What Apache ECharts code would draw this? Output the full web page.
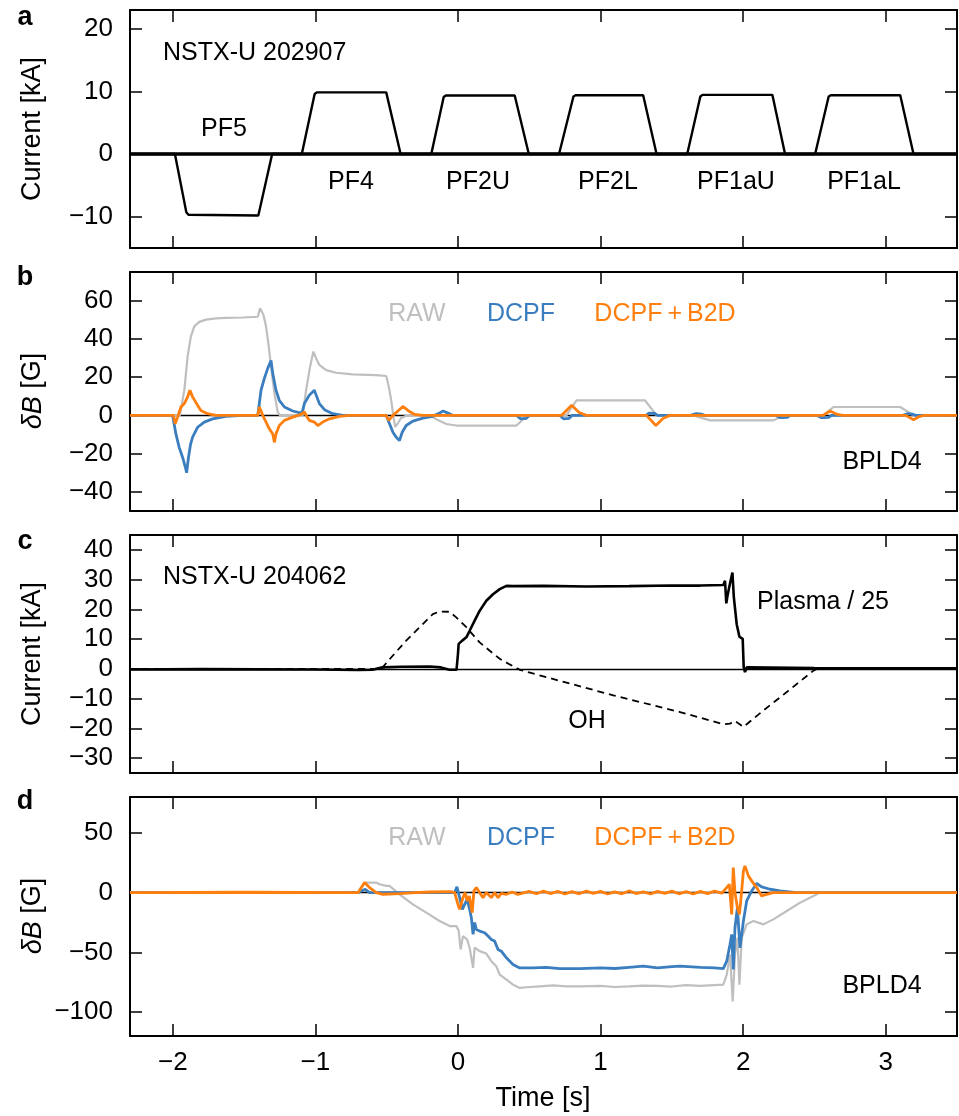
<!DOCTYPE html>
<html><head><meta charset="utf-8">
<script src="https://cdn.jsdelivr.net/npm/echarts@6/dist/echarts.min.js"></script>
<style>html,body{margin:0;padding:0;background:#fff}#c{width:959px;height:1116px}</style>
</head><body><div id="c"></div>
<script>
// ---------- tick values ----------
const xTicks = [-2, -1, 0, 1, 2, 3];
const aTicks = [-10, 0, 10, 20];
const bTicks = [-40, -20, 0, 20, 40, 60];
const cTicks = [-30, -20, -10, 0, 10, 20, 30, 40];
const dTicks = [-100, -50, 0, 50];

// ---------- panel a : PF coil currents [kA] ----------
const pf5   = [[-2.3,0],[-1.985,0],[-1.905,-9.3],[-1.89,-9.7],[-1.40,-9.8],[-1.303,0],[3.5,0]];
const pf4   = [[-2.3,0],[-1.095,0],[-1.005,9.6],[-0.99,9.85],[-0.503,9.85],[-0.402,0],[3.5,0]];
const pf2u  = [[-2.3,0],[-0.187,0],[-0.10,9.1],[-0.085,9.35],[0.398,9.35],[0.497,0],[3.5,0]];
const pf2l  = [[-2.3,0],[0.709,0],[0.81,9.2],[0.825,9.4],[1.299,9.4],[1.393,0],[3.5,0]];
const pf1au = [[-2.3,0],[1.608,0],[1.70,9.2],[1.715,9.45],[2.205,9.45],[2.294,0],[3.5,0]];
const pf1al = [[-2.3,0],[2.505,0],[2.60,9.2],[2.615,9.4],[3.102,9.4],[3.195,0],[3.5,0]];

// ---------- panel b : BPLD4 deltaB [G], shot 202907 ----------
const bRaw = [[-2.3,0],[-1.95,0],[-1.943,0.5],[-1.919,13.2],[-1.896,30.8],[-1.873,41.3],[-1.849,46.6],[-1.814,48.9],[-1.767,50.1],[-1.697,50.7],[-1.627,51.0],[-1.51,51.2],[-1.404,51.6],[-1.388,56.0],[-1.365,52.8],[-1.346,46.6],[-1.327,36.1],[-1.311,25.5],[-1.287,11.4],[-1.264,1.8],[-1.248,0],[-1.089,0],[-1.065,13.2],[-1.037,25.5],[-1.014,33.4],[-0.995,29.9],[-0.972,26.4],[-0.925,23.7],[-0.855,22.3],[-0.738,21.5],[-0.574,21.1],[-0.503,20.6],[-0.485,15],[-0.468,7.9],[-0.452,-0.9],[-0.44,-6],[-0.42,-4],[-0.40,-1.5],[-0.36,0],[-0.199,0],[-0.152,-2],[-0.082,-4.5],[-0.012,-5.3],[0.41,-5.3],[0.445,-3],[0.48,0],[0.761,0],[0.831,7.9],[1.311,7.9],[1.393,0],[1.65,0],[1.768,-2.6],[2.213,-2.6],[2.283,0],[2.563,0],[2.634,4.4],[3.102,4.4],[3.196,0],[3.5,0]];
const bDcpf = [[-2.3,0],[-2.001,0],[-1.978,-9.7],[-1.955,-16.7],[-1.931,-22],[-1.912,-27],[-1.903,-30],[-1.89,-22],[-1.875,-15],[-1.861,-11.4],[-1.826,-6.2],[-1.779,-3.5],[-1.721,-1.8],[-1.627,-0.5],[-1.51,0],[-1.404,0],[-1.393,6.2],[-1.381,13.2],[-1.358,19.3],[-1.334,24.6],[-1.311,28.7],[-1.299,22],[-1.276,13.2],[-1.253,7.9],[-1.217,4.4],[-1.159,2.3],[-1.1,1.2],[-1.089,2.6],[-1.077,6.2],[-1.042,10.6],[-1.007,13.2],[-0.99,9.7],[-0.972,6.2],[-0.936,3],[-0.878,0.9],[-0.808,0],[-0.503,0],[-0.48,-4.4],[-0.456,-8.8],[-0.433,-11.4],[-0.41,-13.2],[-0.391,-8.8],[-0.363,-5.3],[-0.316,-3],[-0.246,-1.4],[-0.176,-0.5],[-0.129,1.2],[-0.105,2.3],[-0.07,1.2],[-0.035,0],[0.41,0],[0.44,-1.8],[0.48,-1.5],[0.50,0],[0.715,0],[0.74,-1.8],[0.78,-1.5],[0.80,0],[1.32,0],[1.34,1.2],[1.38,1],[1.40,0],[1.63,0],[1.67,0.9],[1.71,0.6],[1.73,0],[2.23,0],[2.26,-1.2],[2.31,-1],[2.33,0],[2.52,0],[2.55,-1.2],[2.6,-1],[2.62,0],[3.12,0],[3.15,0.9],[3.19,0.6],[3.21,0],[3.5,0]];
const bB2d = [[-2.3,0],[-1.995,0],[-1.983,-4.4],[-1.966,-0.9],[-1.943,4.4],[-1.919,6.2],[-1.896,9.7],[-1.88,13.2],[-1.861,9.7],[-1.826,5.3],[-1.803,2.6],[-1.756,0.9],[-1.697,0],[-1.404,0],[-1.393,4.4],[-1.369,0],[-1.346,-3.5],[-1.323,-7],[-1.299,-9.7],[-1.287,-14.1],[-1.276,-9.7],[-1.253,-5.3],[-1.217,-2.6],[-1.159,-0.9],[-1.1,0.5],[-1.077,1.8],[-1.065,0],[-1.042,-2.6],[-1.007,-3.5],[-0.983,-5.3],[-0.948,-3.5],[-0.901,-1.8],[-0.831,-0.5],[-0.761,0],[-0.503,0],[-0.485,-2.6],[-0.456,0],[-0.421,2.3],[-0.386,4.7],[-0.351,2.6],[-0.304,0.5],[-0.246,0],[0.726,0],[0.797,5.3],[0.85,1.5],[0.901,0],[1.322,0],[1.388,-5.3],[1.44,-1.5],[1.487,0],[2.56,0],[2.61,2.3],[2.66,0.5],[2.7,0],[3.14,0],[3.195,-2.3],[3.24,-0.5],[3.27,0],[3.5,0]];

// ---------- panel c : shot 204062 currents [kA] ----------
const plasma = [[-2.3,-0.2],[-1.8,-0.1],[-1.0,-0.2],[-0.7,-0.4],[-0.6,-0.3],[-0.53,0.5],[-0.4,0.7],[-0.2,0.8],[-0.12,0.5],[-0.06,-0.3],[-0.01,-0.3],[0.0,5],[0.005,8.4],[0.03,9.5],[0.059,10.6],[0.082,12.8],[0.117,16.2],[0.152,19.5],[0.199,22.9],[0.246,25.1],[0.293,26.8],[0.34,27.9],[0.386,27.8],[0.6,27.9],[0.9,27.7],[1.2,27.8],[1.5,28],[1.7,28],[1.861,28.2],[1.873,29.6],[1.882,22],[1.89,24.5],[1.905,28],[1.915,28.3],[1.925,32.4],[1.935,24],[1.955,15],[1.974,10.8],[1.997,10.1],[2.004,0.6],[2.013,-1.1],[2.025,0.5],[2.5,0.3],[3.5,0.2]];
const oh = [[-2.3,0],[-0.538,0],[-0.456,4.5],[-0.363,9.5],[-0.269,14],[-0.176,18.4],[-0.129,19.3],[-0.059,19.2],[-0.012,17.3],[0.059,14],[0.152,8.9],[0.223,6.1],[0.293,3.4],[0.363,1.5],[0.433,-0.3],[0.621,-2.8],[1.089,-8.9],[1.557,-14.5],[1.861,-18.6],[1.908,-18.4],[1.943,-17.5],[2.002,-19.5],[2.142,-14],[2.306,-7.8],[2.493,-0.6],[2.517,0],[3.5,0]];

// ---------- panel d : BPLD4 deltaB [G], shot 204062 ----------
const dRaw = [[-2.3,0],[-0.7,0],[-0.66,7],[-0.644,8.4],[-0.573,8.4],[-0.55,7],[-0.503,5.6],[-0.48,5.6],[-0.41,-1.4],[-0.316,-9.8],[-0.222,-16.8],[-0.129,-23.8],[-0.058,-28],[-0.011,-28],[0.005,-32],[0.019,-47.6],[0.035,-36.4],[0.064,-39.2],[0.082,-46.2],[0.106,-63],[0.117,-46],[0.152,-49],[0.199,-51],[0.234,-57.4],[0.269,-61.6],[0.293,-68.6],[0.34,-72.8],[0.386,-77],[0.433,-79.8],[0.48,-79.2],[0.574,-78.4],[0.667,-77.6],[0.761,-78.4],[0.855,-78.4],[1.0,-78],[1.1,-79],[1.2,-78.5],[1.3,-77.8],[1.4,-78],[1.5,-78.6],[1.6,-77.5],[1.7,-78],[1.861,-77],[1.885,-68.6],[1.908,-51.8],[1.927,-91],[1.943,-51.8],[1.96,-37.8],[1.974,-77],[1.99,-37.8],[2.025,-26.6],[2.072,-23.8],[2.142,-26.6],[2.212,-22.4],[2.306,-15.4],[2.4,-8.4],[2.493,-2.8],[2.54,0],[3.5,0]];
const dDcpf = [[-2.3,0],[-0.70,0],[-0.691,-1.4],[-0.65,2.8],[-0.62,0],[-0.023,0],[-0.007,4.8],[0.012,-4.2],[0.031,-14],[0.047,-9.8],[0.064,-5.6],[0.082,-14],[0.094,-21],[0.106,-35],[0.117,-25],[0.129,-30.8],[0.152,-32.2],[0.187,-33.6],[0.211,-36.4],[0.234,-39.2],[0.257,-40.6],[0.281,-47.6],[0.304,-49],[0.34,-54.6],[0.386,-60.2],[0.433,-63],[0.527,-63],[0.621,-62.5],[0.714,-63.6],[0.855,-63.6],[1.0,-63],[1.1,-63.5],[1.2,-62.5],[1.299,-61.6],[1.4,-63],[1.5,-62],[1.557,-61.6],[1.7,-62.5],[1.8,-63],[1.861,-63.6],[1.885,-57.4],[1.908,-43.4],[1.92,-35],[1.931,-64.4],[1.943,-29.4],[1.96,-12.6],[1.978,-46.2],[2.002,-23.8],[2.025,-7],[2.06,1.4],[2.095,7.6],[2.13,4.8],[2.189,2.8],[2.259,1.4],[2.376,0],[3.5,0]];
const dB2d = [[-2.3,0],[-1.5,0.3],[-0.7,0],[-0.691,0],[-0.655,8.4],[-0.62,4.2],[-0.573,0],[-0.527,-1.4],[-0.41,-0.8],[-0.3,0],[-0.2,0.5],[-0.05,0.8],[-0.023,0],[-0.01,1.4],[0.005,-12],[0.012,-14],[0.02,-15.4],[0.035,-4.2],[0.05,0],[0.066,-7],[0.08,-2.8],[0.1,-16.8],[0.112,1.4],[0.129,4.2],[0.152,0],[0.176,-4.2],[0.199,0],[0.234,-4.2],[0.257,0],[0.281,-4.2],[0.304,-0.7],[0.34,-1.4],[0.38,0.5],[0.42,-1.5],[0.5,1],[0.55,-1],[0.6,1.2],[0.65,-0.8],[0.7,1],[0.75,-1.2],[0.8,0.8],[0.85,-1],[0.9,1.2],[0.95,-0.6],[1.0,1],[1.05,-1.2],[1.1,0.6],[1.15,-1],[1.2,1.4],[1.25,-0.8],[1.3,0.6],[1.35,-1.2],[1.4,1],[1.45,-0.6],[1.5,1.2],[1.55,-1],[1.6,0.8],[1.65,-1.2],[1.7,1],[1.75,-0.8],[1.8,1.2],[1.85,-0.5],[1.885,4.2],[1.903,7],[1.92,-18.2],[1.931,21],[1.943,0],[1.96,-12.6],[1.974,-18.2],[1.99,1.4],[2.002,18.2],[2.013,22.4],[2.037,14],[2.06,9.8],[2.095,4.2],[2.13,-2.8],[2.165,-1.4],[2.212,0],[3.5,0]];

// ---------- styling ----------
const FONT = '"Liberation Sans", Arial, Helvetica, sans-serif';
const GRAY = '#bfbfbf', BLUE = '#3a7ebf', ORANGE = '#ff7f0e';
const LEFT = 130, WIDTH = 827;
const panels = [
  {top: 10,  height: 238, min: -15,  max: 23, ticks: aTicks},
  {top: 272, height: 239, min: -50,  max: 75, ticks: bTicks},
  {top: 535, height: 238, min: -35,  max: 45, ticks: cTicks},
  {top: 797, height: 239, min: -120, max: 80, ticks: dTicks}
];
const fmt = v => (v < 0 ? '\u2212' + Math.abs(v) : String(v));

const grid = [], xAxis = [], yAxis = [];
panels.forEach((p, i) => {
  grid.push({left: LEFT, width: WIDTH, top: p.top, height: p.height, show: false});
  const line = {show: true, onZero: false, lineStyle: {color: '#000', width: 2}};
  const tick = vals => ({show: true, inside: true, length: 12, customValues: vals, lineStyle: {color: '#000', width: 1.5}});
  xAxis.push({type: 'value', gridIndex: i, min: -2.3, max: 3.5, position: 'bottom', axisLine: line, axisTick: tick(xTicks),
    axisLabel: {show: i === 3, customValues: xTicks, formatter: fmt, fontSize: 26, fontFamily: FONT, color: '#000', margin: 14},
    splitLine: {show: false}});
  xAxis.push({type: 'value', gridIndex: i, min: -2.3, max: 3.5, position: 'top', axisLine: line, axisTick: tick(xTicks),
    axisLabel: {show: false}, splitLine: {show: false}});
  yAxis.push({type: 'value', gridIndex: i, min: p.min, max: p.max, position: 'left', axisLine: line, axisTick: tick(p.ticks),
    axisLabel: {show: true, customValues: p.ticks, formatter: fmt, fontSize: 26, fontFamily: FONT, color: '#000', margin: 17},
    splitLine: {show: false}});
  yAxis.push({type: 'value', gridIndex: i, min: p.min, max: p.max, position: 'right', axisLine: line, axisTick: tick(p.ticks),
    axisLabel: {show: false}, splitLine: {show: false}});
});

function ser(panel, data, color, width, extra) {
  return Object.assign({type: 'line', xAxisIndex: panel * 2, yAxisIndex: panel * 2, data: data, showSymbol: false, symbol: 'none',
    animation: false, silent: true, z: 3, lineStyle: {color: color, width: width}}, extra || {});
}
function zeroSeries(panel) {
  return {type: 'line', xAxisIndex: panel * 2, yAxisIndex: panel * 2, data: [], silent: true, z: 1, animation: false,
    markLine: {silent: true, z: 1, symbol: ['none', 'none'], label: {show: false}, animation: false,
      lineStyle: {color: '#000', width: 1.3, type: 'solid'}, data: [{yAxis: 0}]}};
}

const series = [
  ser(0, pf5, '#000', 2.4), ser(0, pf4, '#000', 2.4), ser(0, pf2u, '#000', 2.4),
  ser(0, pf2l, '#000', 2.4), ser(0, pf1au, '#000', 2.4), ser(0, pf1al, '#000', 2.4),
  zeroSeries(1), ser(1, bRaw, GRAY, 2.2), ser(1, bDcpf, BLUE, 2.8), ser(1, bB2d, ORANGE, 2.8),
  zeroSeries(2), ser(2, oh, '#000', 1.8), ser(2, plasma, '#000', 2.6),
  zeroSeries(3), ser(3, dRaw, GRAY, 2.2), ser(3, dDcpf, BLUE, 2.8), ser(3, dB2d, ORANGE, 2.8)
];
series[11].lineStyle.type = [7, 5];

function txt(text, x, y, opts) {
  return {type: 'text', x: x, y: y, silent: true, rotation: (opts && opts.rot) || 0,
    style: {text: text, fill: (opts && opts.color) || '#000', fontSize: (opts && opts.size) || 25,
      fontFamily: FONT, fontWeight: (opts && opts.weight) || 'normal',
      align: (opts && opts.align) || 'center', verticalAlign: 'middle', rich: opts && opts.rich}};
}
const richDB = {i: {fontStyle: 'italic', fontSize: 27, fontFamily: FONT, fill: '#000'}, n: {fontSize: 27, fontFamily: FONT, fill: '#000'}};
const graphic = [
  txt('a', 25, 18, {weight: 'bold', size: 27}),
  txt('b', 25, 278, {weight: 'bold', size: 27}),
  txt('c', 25, 542, {weight: 'bold', size: 27}),
  txt('d', 25, 802, {weight: 'bold', size: 27}),
  txt('Current [kA]', 33, 129, {rot: Math.PI / 2, size: 27}),
  txt('{i|\u03B4B} {n|[G]}', 33, 391, {rot: Math.PI / 2, size: 27, rich: richDB}),
  txt('Current [kA]', 33, 654, {rot: Math.PI / 2, size: 27}),
  txt('{i|\u03B4B} {n|[G]}', 33, 916, {rot: Math.PI / 2, size: 27, rich: richDB}),
  txt('Time [s]', 543, 1099, {size: 27}),
  txt('NSTX-U 202907', 163, 53, {align: 'left'}),
  txt('PF5', 224, 129), txt('PF4', 351, 182), txt('PF2U', 478, 182), txt('PF2L', 608, 182),
  txt('PF1aU', 736, 182), txt('PF1aL', 864, 182),
  txt('RAW', 417, 314, {color: GRAY}), txt('DCPF', 521, 314, {color: BLUE}),
  txt('DCPF\u2009+\u2009B2D', 665, 314, {color: ORANGE}), txt('BPLD4', 882, 462),
  txt('NSTX-U 204062', 163, 577, {align: 'left'}),
  txt('Plasma / 25', 823, 602), txt('OH', 587, 721),
  txt('RAW', 417, 838, {color: GRAY}), txt('DCPF', 521, 838, {color: BLUE}),
  txt('DCPF\u2009+\u2009B2D', 665, 838, {color: ORANGE}), txt('BPLD4', 882, 986)
];

const chart = echarts.init(document.getElementById('c'), null, {renderer: 'canvas'});
chart.setOption({animation: false, backgroundColor: '#fff', grid: grid, xAxis: xAxis, yAxis: yAxis, series: series, graphic: graphic});
</script></body></html>
